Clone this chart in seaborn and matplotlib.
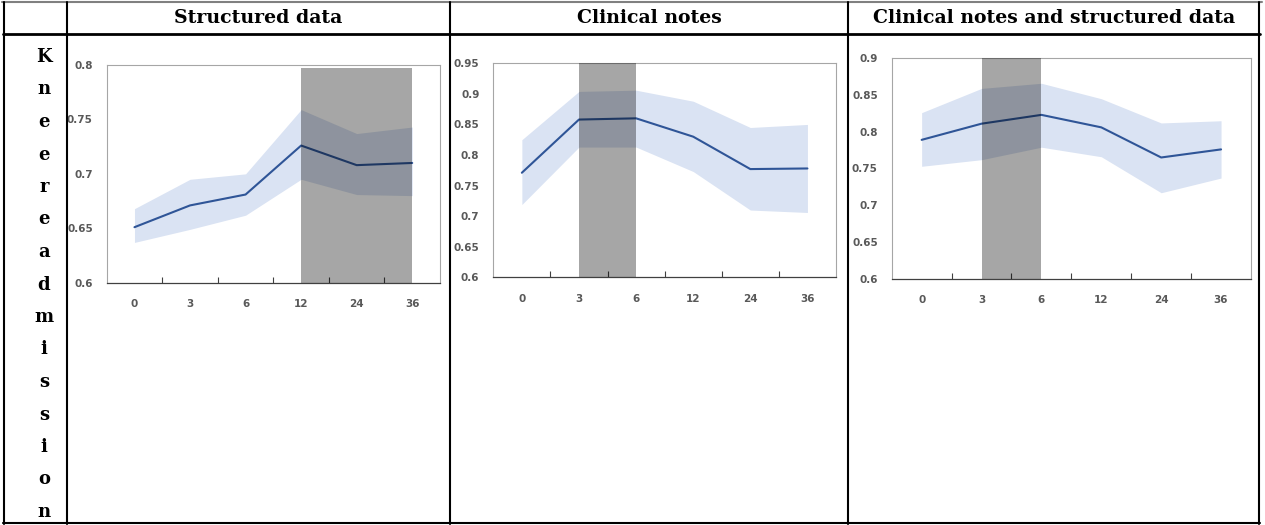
import numpy as np
import pandas as pd
import matplotlib
matplotlib.use("Agg")
import matplotlib.pyplot as plt
from matplotlib.lines import Line2D
from matplotlib.ticker import FixedLocator
import seaborn as sns

# ---------------- data ----------------
months = ["0", "3", "6", "12", "24", "36"]
panel_titles = ["Structured data", "Clinical notes", "Clinical notes and structured data"]
row_label = "Kneereadmission"

struct_mean = [0.651, 0.671, 0.681, 0.726, 0.708, 0.710]
struct_upper = [0.668, 0.695, 0.700, 0.759, 0.737, 0.743]
struct_lower = [0.637, 0.649, 0.662, 0.695, 0.681, 0.680]

notes_mean = [0.771, 0.858, 0.860, 0.830, 0.777, 0.778]
notes_upper = [0.825, 0.904, 0.906, 0.888, 0.845, 0.850]
notes_lower = [0.719, 0.813, 0.813, 0.773, 0.710, 0.706]

both_mean = [0.789, 0.811, 0.823, 0.806, 0.765, 0.776]
both_upper = [0.826, 0.859, 0.866, 0.845, 0.812, 0.815]
both_lower = [0.753, 0.762, 0.779, 0.766, 0.717, 0.737]

y_limits = [(0.6, 0.8), (0.6, 0.95), (0.6, 0.9)]
y_steps = [0.05, 0.05, 0.05]
highlight = [("12", "36"), ("3", "6"), ("3", "6")]

# ---------------- style ----------------
sns.set_theme(style="white")
plt.rcParams['font.family'] = ['DejaVu Sans']

W, H = 1265, 525
fig = plt.figure(figsize=(W / 100, H / 100), dpi=100)

def fx(px):
    return px / W

def fy(py):
    return 1 - py / H

LINE = "#2f5597"
BAND = "#dae3f3"
TICKC = "#595959"

# axes boxes in pixel coords: left, top, right, bottom
boxes = [(106.7, 65.0, 440.0, 282.7),
         (493.3, 63.3, 836.0, 277.3),
         (891.7, 58.3, 1251.0, 278.7)]
span_top = [0.985, 1.0, 1.0]

series = [(struct_mean, struct_upper, struct_lower),
          (notes_mean, notes_upper, notes_lower),
          (both_mean, both_upper, both_lower)]

for i, (box, (m, up, lo)) in enumerate(zip(boxes, series)):
    l, t, r, b = box
    ax = fig.add_axes([fx(l), fy(b), fx(r - l), (b - t) / H])
    pos = np.arange(len(months))
    df = pd.DataFrame({"pos": pos, "mean": m})
    ax.fill_between(pos, lo, up, color=BAND, lw=0, zorder=1)
    sns.lineplot(data=df, x="pos", y="mean", ax=ax, color=LINE, lw=1.5, zorder=2)
    h0, h1 = highlight[i]
    ax.axvspan(months.index(h0), months.index(h1), ymax=span_top[i],
               color="black", alpha=0.35, lw=0, zorder=3)
    ax.set_xlim(-0.5, len(months) - 0.5)
    ymin, ymax = y_limits[i]
    ax.set_ylim(ymin, ymax)
    yt = np.round(np.arange(ymin, ymax + 1e-9, y_steps[i]), 2)
    ax.set_yticks(yt)
    ax.set_yticklabels([f"{v:g}" for v in yt])
    ax.set_xticks(pos)
    ax.set_xticklabels(months)
    ax.xaxis.set_minor_locator(FixedLocator(pos[:-1] + 0.5))
    ax.set_xlabel("")
    ax.set_ylabel("")
    ax.tick_params(axis="x", which="major", length=0, pad=12, labelsize=7.5,
                   labelcolor=TICKC)
    ax.tick_params(axis="x", which="minor", length=4, width=0.8, direction="in",
                   color="#404040", bottom=True)
    ax.tick_params(axis="y", length=0, pad=10, labelsize=7.5, labelcolor=TICKC)
    for s in ["top", "right", "left"]:
        ax.spines[s].set_color("#a6a6a6")
        ax.spines[s].set_linewidth(0.8)
    ax.spines["bottom"].set_color("#404040")
    ax.spines["bottom"].set_linewidth(0.9)
    for lab in ax.get_xticklabels() + ax.get_yticklabels():
        lab.set_fontweight("bold")

# ---------------- table frame ----------------
def hline(y, x0, x1, color="black", lw=1.5):
    fig.add_artist(Line2D([fx(x0), fx(x1)], [fy(y), fy(y)], color=color, lw=lw))

def vline(x, y0, y1, color="black", lw=1.5):
    fig.add_artist(Line2D([fx(x), fx(x)], [fy(y0), fy(y1)], color=color, lw=lw))

hline(2, 2, 1262, color="#808080", lw=1.5)
hline(34, 3, 1260, lw=2.0)
hline(523, 3, 1260, lw=1.5)
for x in [4, 67, 450, 848, 1259]:
    vline(x, 2, 524)

col_centers = [258.5, 649, 1054]
for ttl, cx in zip(panel_titles, col_centers):
    fig.text(fx(cx), fy(18), ttl, ha="center", va="center",
             family="DejaVu Serif", fontweight="bold", fontsize=13.6, color="black")

for k, ch in enumerate(row_label):
    fig.text(fx(44), fy(57 + k * 32.5), ch, ha="center", va="center",
             family="DejaVu Serif", fontweight="bold", fontsize=13, color="black")

fig.savefig("out.png", dpi=100)
